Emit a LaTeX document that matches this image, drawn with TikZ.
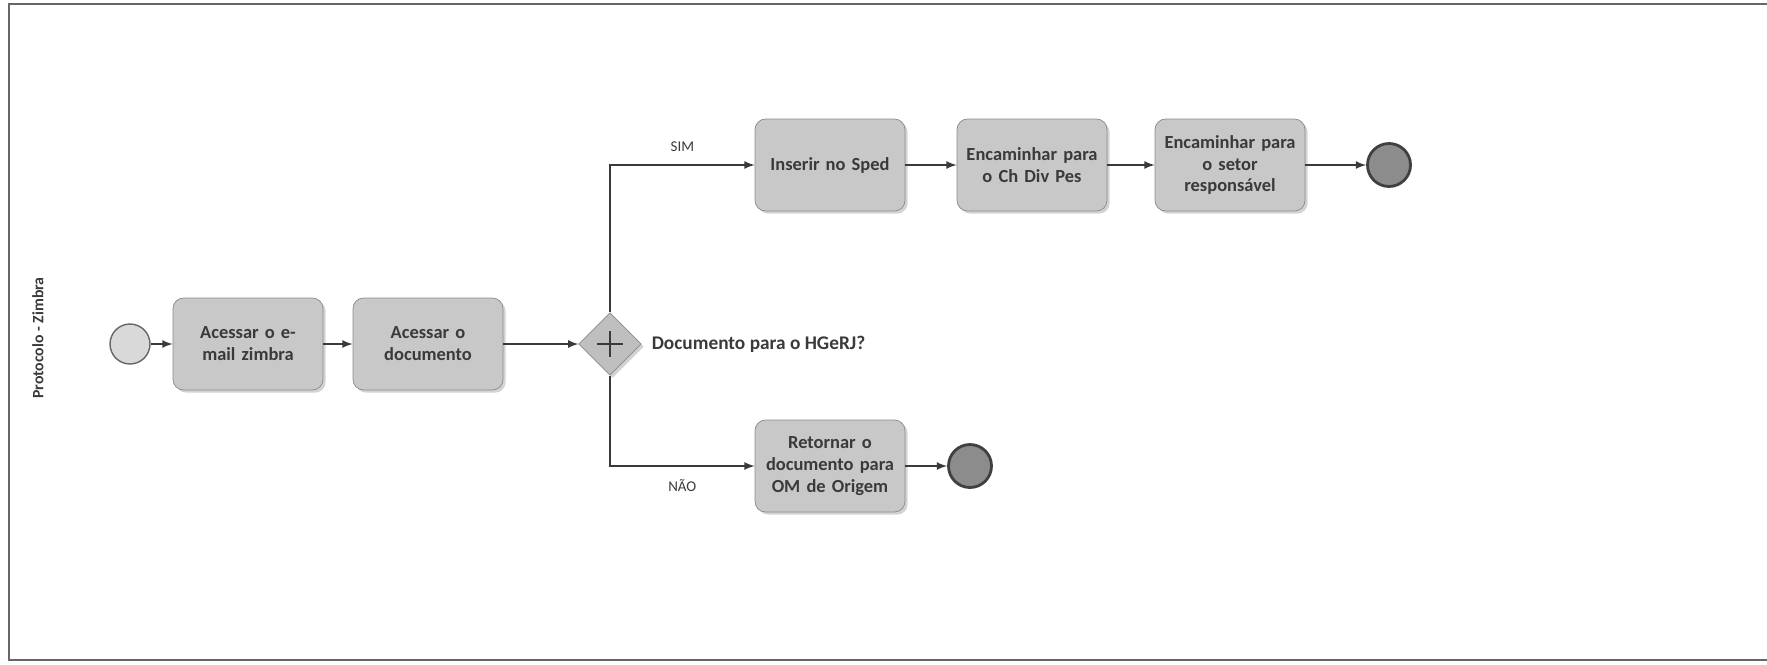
\documentclass[tikz,border=0pt]{standalone}
\usepackage{fontspec}
\setmainfont{Carlito}
\usetikzlibrary{positioning,shapes,arrows,shadows}

\definecolor{taskfill}{HTML}{C8C8C8}
\definecolor{taskline}{HTML}{8A8A8A}
\definecolor{inkgray}{HTML}{3A3A3A}
\definecolor{endfill}{HTML}{8C8C8C}

\begin{document}
\begin{tikzpicture}[x=0.02cm, y=-0.02cm,
  task/.style={draw=taskline, fill=taskfill, rounded corners=6pt, minimum width=3.0cm, minimum height=1.84cm,
    inner sep=2pt, text width=2.85cm, align=center, text=inkgray,
    font=\fontsize{10.5}{12.5}\selectfont\bfseries,
    drop shadow={shadow xshift=1.5pt, shadow yshift=-1.5pt, opacity=0.35}},
  startev/.style={circle, draw=black!60, fill=black!15, line width=0.8pt, minimum size=0.8cm, inner sep=0pt},
  endev/.style={circle, draw=black!75, fill=endfill, line width=1.6pt, minimum size=0.86cm, inner sep=0pt},
  gateway/.style={diamond, draw=taskline, fill=black!25, aspect=1, minimum size=1.25cm, inner sep=0pt,
    drop shadow={shadow xshift=1.5pt, shadow yshift=-1.5pt, opacity=0.35}},
  flow/.style={draw=inkgray, line width=1pt, ->, >=latex},
  lbl/.style={font=\fontsize{8.5}{10}\selectfont, text=inkgray},
  frame/.style={draw=black!60, line width=1pt}]
\useasboundingbox (0,0) rectangle (1767,664);

% pool frame and lane name
\draw[frame] (1800,4) -- (9,4) -- (9,660) -- (1800,660);
\node[rotate=90, text=inkgray, font=\fontsize{9}{10}\selectfont\bfseries] (lane) at (38,338) {Protocolo - Zimbra};

% main row
\node[startev] (start) at (130,344) {};
\node[task] (email) at (248,344) {Acessar o e-\\mail zimbra};
\node[task] (doc) at (428,344) {Acessar o\\documento};
\node[gateway] (gw) at (610,344) {};
\draw[inkgray, line width=1.2pt] (gw.center) ++(-13,0) -- ++(26,0) (gw.center) ++(0,-13) -- ++(0,26);
\node[text=inkgray, font=\fontsize{11}{13}\selectfont\bfseries, right=0.08cm of gw] (question) {Documento para o HGeRJ?};

% SIM branch
\node[task] (sped) at (830,165) {Inserir no Sped};
\node[task] (chdiv) at (1032,165) {Encaminhar para\\o Ch Div Pes};
\node[task] (setor) at (1230,165) {Encaminhar para\\o setor\\responsável};
\node[endev] (endsim) at (1389,165) {};

% NAO branch
\node[task] (retorno) at (830,466) {Retornar o\\documento para\\OM de Origem};
\node[endev] (endnao) at (970,466) {};

% sequence flows
\draw[flow] (start) -- (email);
\draw[flow] (email) -- (doc);
\draw[flow] (doc) -- (gw);
\draw[flow] (gw.north) |- (sped.west) node[lbl, pos=0.75, above=4pt] {SIM};
\draw[flow] (sped) -- (chdiv);
\draw[flow] (chdiv) -- (setor);
\draw[flow] (setor) -- (endsim);
\draw[flow] (gw.south) |- (retorno.west) node[lbl, pos=0.75, below=4pt] {NÃO};
\draw[flow] (retorno) -- (endnao);
\end{tikzpicture}
\end{document}
